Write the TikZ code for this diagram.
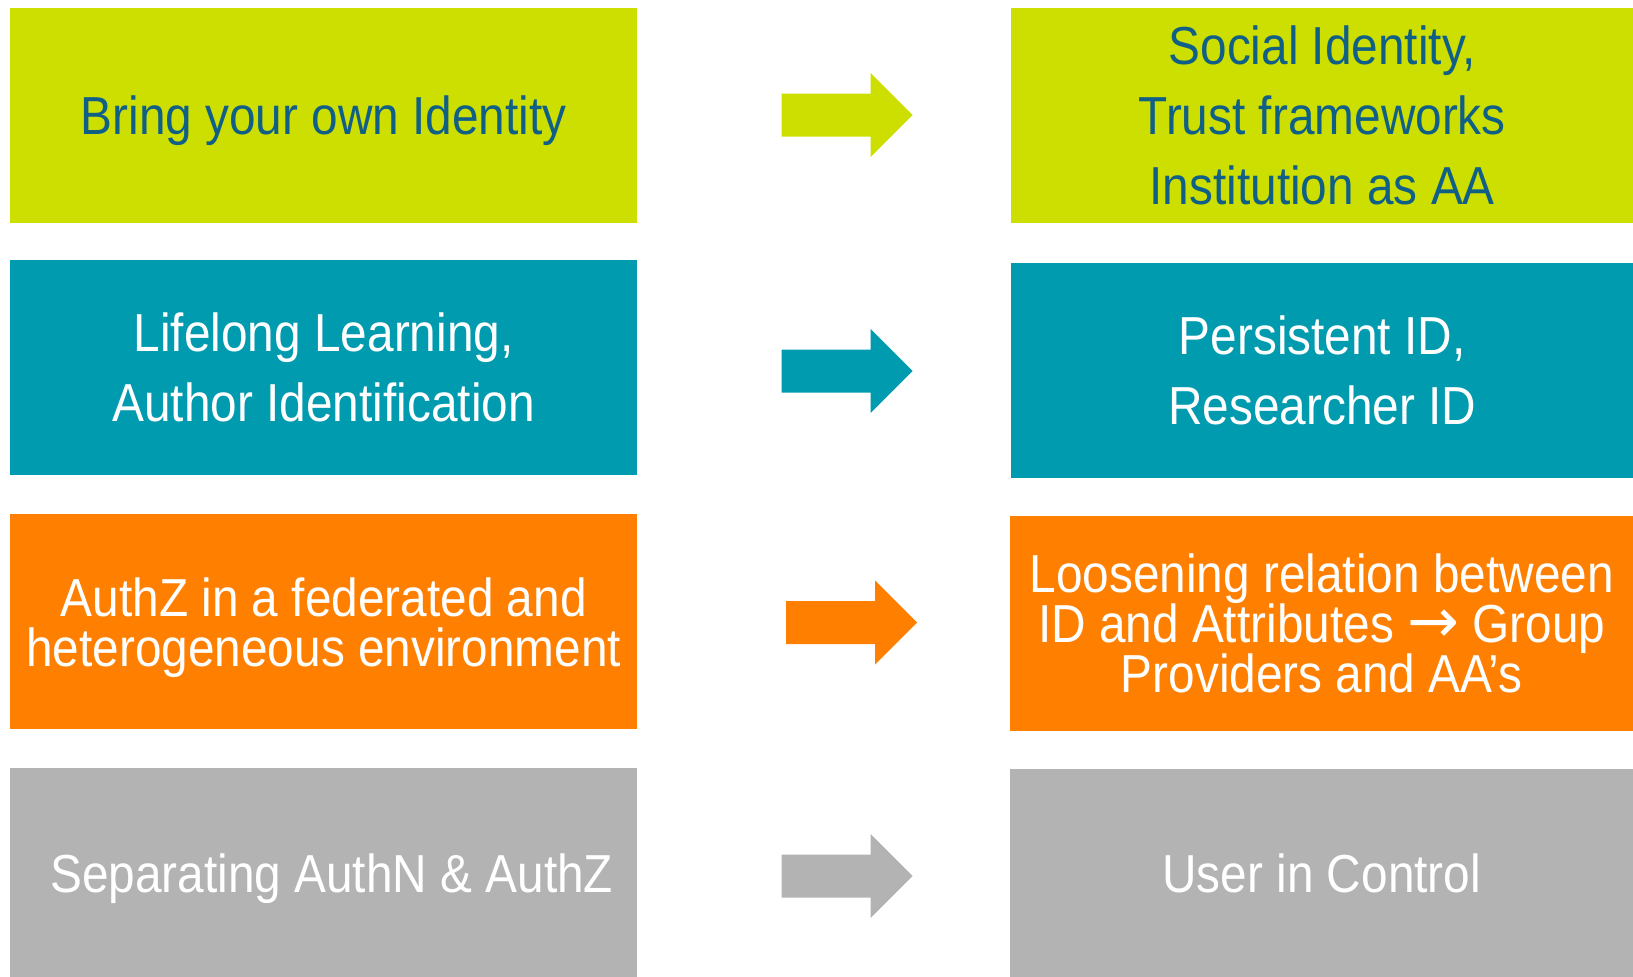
\documentclass[tikz,border=0pt]{standalone}
\usepackage{fontspec}
\setmainfont[FakeStretch=0.893]{Liberation Sans}
\newfontfamily\symfont{DejaVu Sans}
\definecolor{cLime}{HTML}{CCDF00}
\definecolor{cTeal}{HTML}{009BAF}
\definecolor{cOrange}{HTML}{FF7F00}
\definecolor{cGray}{HTML}{B3B3B3}
\definecolor{cBlue}{HTML}{0F5F87}
\newcommand\fatarrow[3]{%
  \fill[#3] (#1-131,#2-21.5) -- (#1-42,#2-21.5) -- (#1-42,#2-42) -- (#1,#2)
    -- (#1-42,#2+42) -- (#1-42,#2+21.5) -- (#1-131,#2+21.5) -- cycle;}
\begin{document}
\begin{tikzpicture}[x=1pt,y=-1pt,
  box/.style={fill=#1, draw=none, inner sep=0pt, anchor=north west, align=center,
    text=white, font=\fontsize{53.5}{70}\selectfont},
  tight/.style={font=\fontsize{53.5}{50}\selectfont},
  low/.style={text depth=0pt}]
\useasboundingbox (0,0) rectangle (1633,977);
% left column
\node[box=cLime, low, text=cBlue, minimum width=627pt, minimum height=215.4pt] (l1) at (10,7.3)
  {Bring your own Identity};
\node[box=cTeal, minimum width=627pt, minimum height=215pt] (l2) at (10,260)
  {Lifelong Learning,\\Author Identification};
\node[box=cOrange, tight, low, minimum width=627pt, minimum height=215pt] (l3) at (10,514)
  {AuthZ in a federated and\\heterogeneous environment};
\node[box=cGray, low, minimum width=627pt, minimum height=209pt] (l4) at (10,768)
  {\hspace*{16pt}Separating AuthN \& AuthZ};
% right column
\node[box=cLime, text=cBlue, minimum width=622pt, minimum height=215.4pt] (r1) at (1011,7.3)
  {Social Identity,\\Trust frameworks\\Institution as AA};
\node[box=cTeal, minimum width=622pt, minimum height=214.7pt] (r2) at (1011,263)
  {Persistent ID,\\Researcher ID};
\node[box=cOrange, tight, minimum width=623pt, minimum height=214.7pt] (r3) at (1010,516)
  {Loosening relation between\\ID and Attributes {\symfont\fontsize{62}{50}\selectfont →} Group\\Providers and AA’s};
\node[box=cGray, low, minimum width=623pt, minimum height=208pt] (r4) at (1010,769)
  {User in Control};
% arrows
\fatarrow{912.5}{115}{cLime}
\fatarrow{912.5}{371}{cTeal}
\fatarrow{917}{622.5}{cOrange}
\fatarrow{912.5}{876}{cGray}
\end{tikzpicture}
\end{document}
